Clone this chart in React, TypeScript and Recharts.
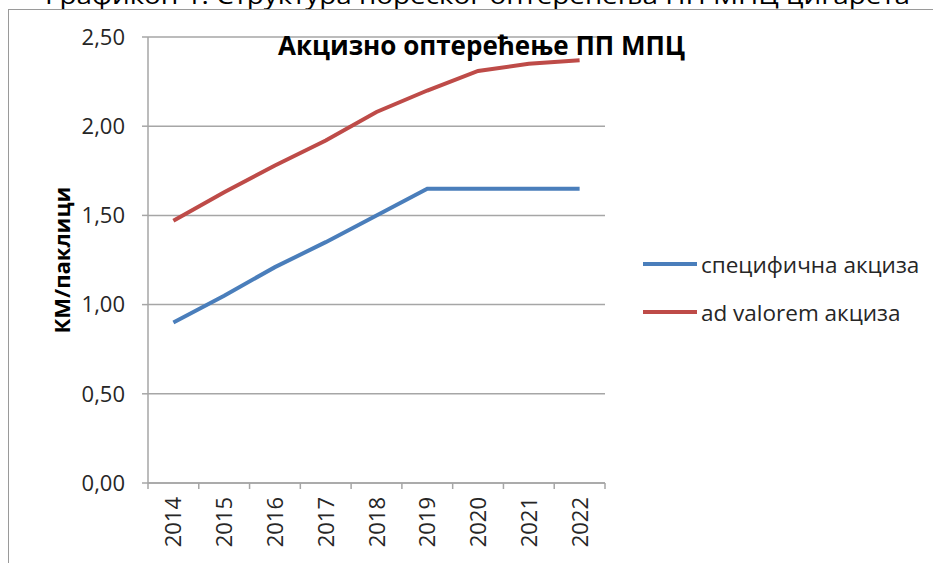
import React from 'react';
import { LineChart, Line, XAxis, YAxis, CartesianGrid, Legend } from 'recharts';

const years = ['2014', '2015', '2016', '2017', '2018', '2019', '2020', '2021', '2022'];
const specific = [0.9, 1.05, 1.21, 1.35, 1.5, 1.65, 1.65, 1.65, 1.65];
const adValorem = [1.47, 1.63, 1.78, 1.92, 2.08, 2.2, 2.31, 2.35, 2.37];
const yTicks = [0, 0.5, 1, 1.5, 2, 2.5];

const seriesNames = { specific: 'специфична акциза', adValorem: 'ad valorem акциза' };
const titleText = 'Акцизно оптерећење ПП МПЦ';
const captionText = 'Графикон 1: Структура пореског оптерећења ПП МПЦ цигарета';
const yLabel = 'КМ/паклици';

const data = years.map((y, i) => ({ year: y, specific: specific[i], adValorem: adValorem[i] }));

const BLUE = '#4a7ebb';
const RED = '#be4b48';
const GRID = '#a6a6a6';
const FONT = '"Open Sans", sans-serif';

const HALF_BAND = (605 - 148) / years.length / 2;

const XTick = (props: any) => {
  const { x, y, payload, index } = props;
  return (
    <g>
      <line x1={x - HALF_BAND} y1={y} x2={x - HALF_BAND} y2={y + 6} stroke={GRID} strokeWidth={1.5} />
      {index === years.length - 1 && (
        <line x1={x + HALF_BAND} y1={y} x2={x + HALF_BAND} y2={y + 6} stroke={GRID} strokeWidth={1.5} />
      )}
      <text
        x={0}
        y={0}
        transform={`translate(${x + 8},${y + 14}) rotate(-90)`}
        textAnchor="end"
        fontFamily={FONT}
        fontSize={22}
        fill="#262626"
      >
        {payload.value}
      </text>
    </g>
  );
};

const LegendContent = () => (
  <div style={{ fontFamily: FONT, fontSize: 22.5, color: '#262626' }}>
    {[
      { c: BLUE, n: seriesNames.specific },
      { c: RED, n: seriesNames.adValorem },
    ].map((it) => (
      <div key={it.n} style={{ display: 'flex', alignItems: 'center', height: 48 }}>
        <div style={{ width: 54, height: 4, background: it.c, marginRight: 4 }} />
        <span>{it.n}</span>
      </div>
    ))}
  </div>
);

export default function App() {
  return (
    <div style={{ position: 'absolute', left: 0, top: 0, width: 933, height: 563, overflow: 'hidden', background: '#fff' }}>
      <svg width={933} height={20} style={{ position: 'absolute', left: 0, top: 0 }}>
        <text x={45} y={4} fontFamily={FONT} fontSize={24} fill="#000" textLength={865} lengthAdjust="spacingAndGlyphs">
          {captionText}
        </text>
      </svg>
      <div
        style={{
          position: 'absolute',
          left: 8,
          top: 9,
          width: 940,
          height: 560,
          borderLeft: '1.5px solid #9a9a9a',
          borderTop: '1.5px solid #9a9a9a',
        }}
      />
      <div style={{ position: 'absolute', left: 0, top: 0 }}>
        <LineChart width={933} height={563} data={data} margin={{ top: 37, right: 38, bottom: 0, left: 0 }}>
          <CartesianGrid horizontal vertical={false} stroke={GRID} strokeWidth={1.5} />
          <XAxis
            dataKey="year"
            scale="band"
            stroke={GRID}
            strokeWidth={1.5}
            tickLine={false}
            tickSize={0}
            tickMargin={0}
            height={80}
            interval={0}
            tick={<XTick />}
          />
          <YAxis
            domain={[0, 2.5]}
            ticks={yTicks}
            width={148}
            stroke={GRID}
            strokeWidth={1.5}
            tickSize={6}
            tickMargin={17}
            tickFormatter={(v: number) => v.toFixed(2).replace('.', ',')}
            tick={{ fontFamily: FONT, fontSize: 22, fill: '#262626' }}
            label={{
              content: (p: any) => {
                const vb = p.viewBox || { x: 0, y: 37, width: 148, height: 446 };
                const cy = vb.y + vb.height / 2;
                return (
                  <text
                    x={0}
                    y={0}
                    transform={`translate(61,${cy}) rotate(-90)`}
                    textAnchor="middle"
                    dominantBaseline="central"
                    fontFamily={FONT}
                    fontWeight="bold"
                    fontSize={22}
                    fill="#000"
                  >
                    {yLabel}
                  </text>
                );
              },
            }}
          />
          <Legend
            layout="vertical"
            align="right"
            verticalAlign="middle"
            content={<LegendContent />}
            wrapperStyle={{ position: 'absolute', left: 643, top: 240, right: 'auto', bottom: 'auto', width: 290 }}
          />
          <Line
            type="linear"
            dataKey="specific"
            name={seriesNames.specific}
            stroke={BLUE}
            strokeWidth={4}
            dot={false}
            isAnimationActive={false}
          />
          <Line
            type="linear"
            dataKey="adValorem"
            name={seriesNames.adValorem}
            stroke={RED}
            strokeWidth={4}
            dot={false}
            isAnimationActive={false}
          />
        </LineChart>
      </div>
      <svg width={933} height={70} style={{ position: 'absolute', left: 0, top: 0 }}>
        <text x={278} y={55} fontFamily={FONT} fontWeight="bold" fontSize={26} fill="#000">
          {titleText}
        </text>
      </svg>
    </div>
  );
}
